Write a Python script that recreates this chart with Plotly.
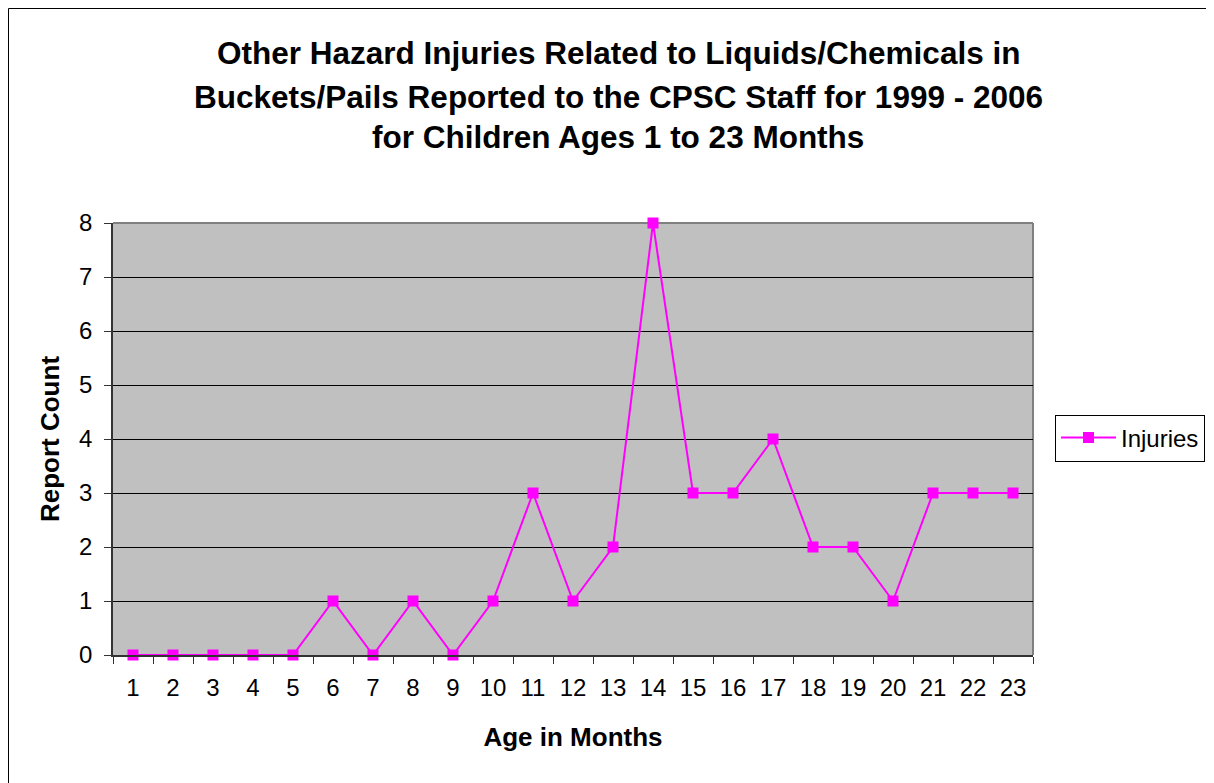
import plotly.graph_objects as go

ages = [str(i) for i in range(1, 24)]
injuries = [0, 0, 0, 0, 0, 1, 0, 1, 0, 1, 3, 1, 2, 8, 3, 3, 4, 2, 2, 1, 3, 3, 3]
title_lines = [
    "Other Hazard Injuries Related to Liquids/Chemicals in",
    "Buckets/Pails Reported to the CPSC Staff for 1999 - 2006",
    "for Children Ages 1 to 23 Months",
]

# page body has an 8px margin, so work in screen pixels and offset
OFF = 8
W, H = 1214 - OFF, 783 - OFF
L, R, T, B = 113, 1033, 223, 655   # plot area in screen pixels
pw, ph = R - L, B - T

def px(x):
    return (x - L) / pw

def py(y):
    return (B - y) / ph

FONT = "Liberation Sans, Arial, sans-serif"

fig = go.Figure()
fig.add_trace(go.Scatter(
    x=ages, y=injuries, mode="lines+markers", name="Injuries",
    line=dict(color="#FF00FF", width=2),
    marker=dict(symbol="square", size=11, color="#FF00FF"),
    cliponaxis=False,
))

annotations = []
for line, yc in zip(title_lines, [53, 97, 137]):
    annotations.append(dict(
        text="<b>%s</b>" % line, xref="paper", yref="paper",
        x=px(618), y=py(yc), xanchor="center", yanchor="middle",
        showarrow=False, font=dict(family=FONT, size=31.5, color="black"),
    ))

fig.update_layout(
    width=W, height=H,
    margin=dict(l=L - OFF, r=W + OFF - R, t=T - OFF, b=H + OFF - B, pad=0,
                autoexpand=False),
    paper_bgcolor="white", plot_bgcolor="#C0C0C0",
    font=dict(family=FONT, color="black"),
    annotations=annotations,
    showlegend=True,
    legend=dict(
        x=px(1055), y=py(438), xanchor="left", yanchor="middle",
        bordercolor="black", borderwidth=1, bgcolor="white",
        font=dict(family=FONT, size=24, color="black"),
        itemwidth=55,
    ),
    xaxis=dict(
        type="category", tickson="boundaries", ticks="outside", ticklen=7,
        tickcolor="#333333", showline=True, linecolor="#333333", linewidth=1.5,
        showgrid=False, tickfont=dict(size=24, family=FONT, color="black"),
        ticklabelstandoff=10,
        title=dict(text="<b>Age in Months</b>", font=dict(size=26, family=FONT), standoff=28),
        range=[-0.5, 22.5], fixedrange=True,
    ),
    yaxis=dict(
        range=[0, 8], dtick=1, ticks="outside", ticklen=7, tickcolor="#333333",
        showline=True, linecolor="#333333", linewidth=1.5,
        showgrid=True, gridcolor="#000000", gridwidth=1, zeroline=False,
        tickfont=dict(size=24, family=FONT, color="black"),
        ticklabelstandoff=7,
        title=dict(text="<b>Report Count</b>", font=dict(size=26, family=FONT), standoff=12),
    ),
    shapes=[
        dict(type="line", xref="paper", yref="paper", x0=0, x1=1, y0=1, y1=1,
             line=dict(color="#808080", width=2), layer="between"),
        dict(type="line", xref="paper", yref="paper", x0=1, x1=1, y0=0, y1=1,
             line=dict(color="#808080", width=2), layer="between"),
        dict(type="rect", xref="paper", yref="paper",
             x0=px(8.5), x1=px(1300), y0=py(900), y1=py(8.5),
             line=dict(color="black", width=1), layer="below"),
    ],
)

fig.write_html("out.html")
